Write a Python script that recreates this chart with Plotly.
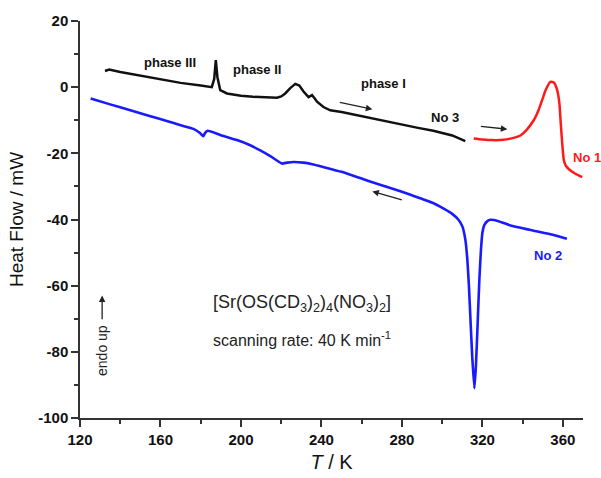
import plotly.graph_objects as go

# No 3 (heating, black)
t_no3 = [132.4, 134.5, 140, 150, 160, 170, 180, 185.5, 186.7, 187.5, 188.3, 189.7, 193, 200, 206, 212,
         217.9, 220, 222, 224.5, 227, 229, 231.1, 233.6, 235.3, 236.5, 237.8, 241, 244.4, 250, 262.6,
         270, 279, 288, 295.6, 300, 305, 311.5]
h_no3 = [4.9, 5.3, 4.6, 3.5, 2.3, 1.3, 0.5, 0.0, 2.5, 8.2, 3.0, -0.9, -1.9, -2.6, -2.9, -3.1,
         -3.2, -2.8, -1.9, -0.3, 1.0, 0.5, -1.3, -3.0, -2.4, -3.3, -4.4, -6.0, -7.0, -7.5, -9.1,
         -10.2, -11.3, -12.3, -13.2, -13.8, -14.6, -16.3]

# No 1 (heating, red)
t_no1 = [315.7, 320, 325, 330.6, 335, 338.9, 342, 345.5, 348, 349.7, 351.5, 353.8, 355.5, 357, 358.2,
         359.0, 359.8, 360.5, 361.5, 363, 366, 369.6]
h_no1 = [-15.5, -15.8, -16.0, -15.9, -15.4, -14.6, -12.9, -10.0, -6.8, -3.9, -0.8, 1.6, 1.4, -0.5, -4.5,
         -11.5, -18.0, -22.1, -23.8, -24.8, -26.1, -27.2]

# No 2 (cooling, blue)
t_no2 = [125.3, 135, 145, 155, 163.1, 170, 176.4, 179.5, 181.3, 182.2, 183.5, 190, 198, 204, 209.6, 215,
         220.3, 223, 226.1, 231, 235, 239.4, 250, 262.6, 275, 285, 295.5, 301, 305, 308, 310, 311.5,
         312.5, 313.3, 314.2, 315, 316, 316.8, 317.6, 318.5, 319.3, 320, 321, 322.5, 324, 328, 334,
         345, 355, 362]
h_no2 = [-3.4, -5.2, -7.0, -8.8, -10.2, -11.5, -12.6, -13.8, -14.8, -13.8, -13.2, -14.5, -16.0, -17.4,
         -19.1, -21.0, -23.1, -22.8, -22.6, -22.8, -23.2, -23.9, -25.6, -28.2, -30.6, -32.7, -35.0,
         -36.8, -38.3, -40.0, -42.0, -46.0, -52.0, -60.0, -72.0, -82.0, -91.0, -84.0, -72.0, -58.0,
         -49.0, -44.0, -41.6, -40.5, -40.1, -40.5, -41.8, -43.3, -44.6, -45.8]

x_ticks = [120, 160, 200, 240, 280, 320, 360]
y_ticks = [-100, -80, -60, -40, -20, 0, 20]

FONT = "Liberation Sans, Arial, sans-serif"

fig = go.Figure()
fig.add_trace(go.Scatter(x=t_no3, y=h_no3, mode="lines", line=dict(color="#111111", width=2.5),
                         showlegend=False))
fig.add_trace(go.Scatter(x=t_no1, y=h_no1, mode="lines", line=dict(color="#ff1a1a", width=2.5, shape="spline", smoothing=0.6),
                         showlegend=False))
fig.add_trace(go.Scatter(x=t_no2, y=h_no2, mode="lines", line=dict(color="#1a1aff", width=2.6, shape="spline", smoothing=0.4),
                         showlegend=False))

def txt(x, y, s, color="#111111", size=13, bold=True, xanchor="center", angle=0):
    fig.add_annotation(x=x, y=y, xref="x", yref="y", text=f"<b>{s}</b>" if bold else s,
                       showarrow=False, xanchor=xanchor, yanchor="middle", textangle=angle,
                       font=dict(family=FONT, size=size, color=color))

txt(164.8, 7.6, "phase III")
txt(208.1, 5.2, "phase II")
txt(270.7, 1.2, "phase I")
txt(301.6, -9.1, "No 3")
txt(364.2, -21.2, "No 1", color="#ff1a1a", xanchor="left")
txt(352.8, -50.9, "No 2", color="#1a1aff")
txt(185.0, -65.5, "[Sr(OS(CD<sub>3</sub>)<sub>2</sub>)<sub>4</sub>(NO<sub>3</sub>)<sub>2</sub>]",
    size=18, bold=False, xanchor="left", color="#222222")
txt(185.0, -76.1, "scanning rate: 40 K min<sup>-1</sup>", size=16, bold=False, xanchor="left", color="#222222")
txt(131, -79.7, "endo up", size=14, bold=False, angle=-90, color="#222222")

def arrow(x0, y0, x1, y1):
    fig.add_annotation(x=x1, y=y1, ax=x0, ay=y0, xref="x", yref="y", axref="x", ayref="y",
                       text="", showarrow=True, arrowhead=2, arrowsize=1, arrowwidth=1.3,
                       arrowcolor="#222222")

arrow(248.4, -4.5, 265.3, -6.7)
arrow(318.5, -11.8, 332.4, -12.7)
arrow(280.7, -34.2, 265.3, -31.5)
arrow(131, -70.6, 131, -63)

axis_common = dict(showline=True, linecolor="#333333", linewidth=1.5, showgrid=False, zeroline=False,
                   ticks="outside", tickcolor="#333333", tickwidth=1.5, ticklen=7,
                   tickfont=dict(family=FONT, size=15, color="#111111"))

fig.update_xaxes(range=[120, 370], tickvals=x_ticks, ticktext=[f"<b>{v}</b>" for v in x_ticks],
                 minor=dict(dtick=20, tick0=120, ticklen=4, tickcolor="#333333", ticks="outside", tickwidth=1.5),
                 title=dict(text="<i>T</i> / K", font=dict(family=FONT, size=20, color="#111111"), standoff=8),
                 **axis_common)
fig.update_yaxes(range=[-100, 20], tickvals=y_ticks, ticktext=[f"<b>{v}</b>" for v in y_ticks],
                 minor=dict(dtick=10, tick0=-100, ticklen=4, tickcolor="#333333", ticks="outside", tickwidth=1.5),
                 title=dict(text="Heat Flow / mW", font=dict(family=FONT, size=19, color="#111111"), standoff=10),
                 **axis_common)

fig.update_layout(width=601, height=478, margin=dict(l=80, r=18, t=21, b=60, autoexpand=False),
                  plot_bgcolor="white", paper_bgcolor="white")

fig.write_html("out.html")
